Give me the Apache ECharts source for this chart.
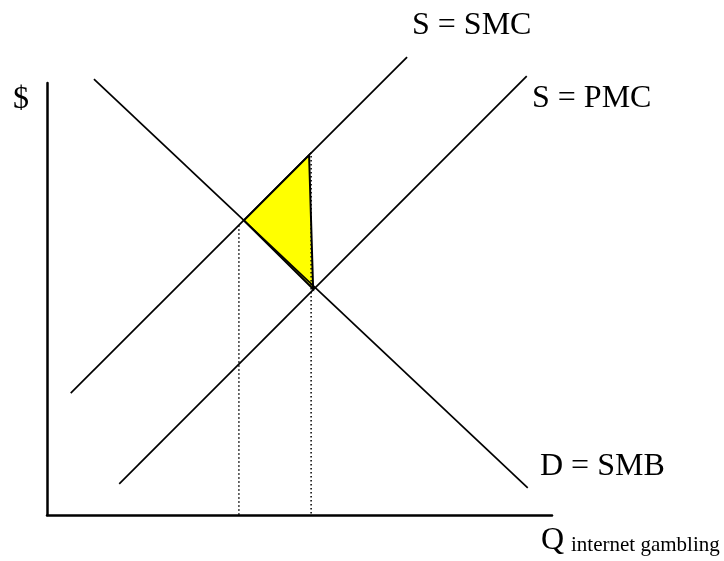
<!DOCTYPE html>
<html lang="en">

<head>
    <meta charset="UTF-8">
    <title>Internet gambling externality</title>
    <script src="https://cdnjs.cloudflare.com/ajax/libs/echarts/6.0.0/echarts.min.js"></script>
    <style>
        body { margin: 0; background: #fff; }
    </style>
</head>

<body>
    <div id="main" style="width: 724px;height:561px;"></div>

    <script>
        // curves, in chart units (Q 0-100, $ 0-100)
        const smcLine = [[4.7, 28.2], [71.3, 106.0]];
        const pmcLine = [[14.3, 7.2], [95.0, 101.6]];
        const demandLine = [[9.3, 100.9], [95.2, 6.3]];
        // deadweight loss triangle
        const dwlTriangle = [[39.0, 68.2], [51.9, 83.3], [52.7, 52.3]];
        // dotted quantity guides
        const qSocial = [[38.0, 67.1], [38.0, 0]];
        const qMarket = [[52.3, 84.0], [52.3, 0]];

        const labels = [
            { text: 'S = SMC', x: 412, y: 26, size: 32 },
            { text: 'S = PMC', x: 532, y: 99, size: 32 },
            { text: 'D = SMB', x: 540, y: 467, size: 32 },
            { text: '$', x: 13, y: 100, size: 32 },
            { text: 'Q', x: 541, y: 541, size: 32 },
            { text: 'internet gambling', x: 571, y: 545, size: 21 }
        ];

        const myChart = echarts.init(document.getElementById('main'));

        function solid(data) {
            return {
                type: 'line',
                data: data,
                symbol: 'none',
                clip: false,
                z: 3,
                lineStyle: { color: '#000', width: 1.7 }
            };
        }

        function dotted(data) {
            return {
                type: 'line',
                data: data,
                symbol: 'none',
                z: 2,
                lineStyle: { color: '#000', width: 1.5, type: [1.5, 2.5] }
            };
        }

        const axisCommon = {
            type: 'value',
            min: 0,
            max: 100,
            axisLine: { show: true, lineStyle: { color: '#000', width: 2.5 } },
            axisTick: { show: false },
            axisLabel: { show: false },
            splitLine: { show: false }
        };

        let option = {
            animation: false,
            backgroundColor: '#fff',
            grid: { left: 47, top: 83, width: 505, height: 432 },
            xAxis: axisCommon,
            yAxis: axisCommon,
            series: [
                {
                    type: 'custom',
                    data: [[0, 0]],
                    z: 1,
                    renderItem: function (params, api) {
                        return {
                            type: 'polygon',
                            shape: { points: dwlTriangle.map(p => api.coord(p)) },
                            style: { fill: '#ffff00', stroke: '#000', lineWidth: 2 }
                        };
                    }
                },
                dotted(qSocial),
                dotted(qMarket),
                solid(smcLine),
                solid(pmcLine),
                solid(demandLine)
            ],
            graphic: labels.map(l => ({
                type: 'text',
                style: {
                    text: l.text,
                    x: l.x,
                    y: l.y,
                    fill: '#000',
                    font: l.size + 'px "Liberation Serif"',
                    align: 'left',
                    verticalAlign: 'middle'
                }
            }))
        };

        myChart.setOption(option);
    </script>
</body>

</html>
